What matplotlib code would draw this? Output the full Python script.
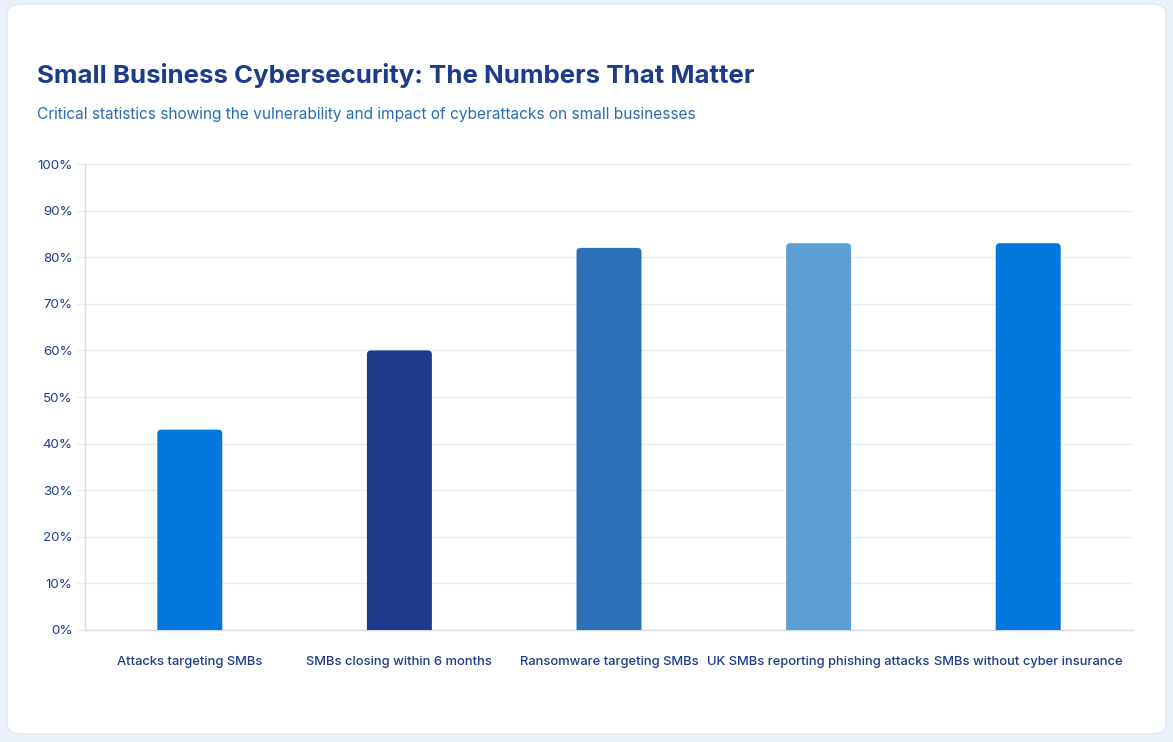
import matplotlib
matplotlib.use("Agg")
import matplotlib.pyplot as plt
from matplotlib.patches import FancyBboxPatch
from matplotlib.ticker import FuncFormatter, MultipleLocator

categories = ["Attacks targeting SMBs", "SMBs closing within 6 months",
              "Ransomware targeting SMBs", "UK SMBs reporting phishing attacks",
              "SMBs without cyber insurance"]
values = [43, 60, 82, 83, 83]
colors = ["#0277dd", "#1e3a8a", "#2c70b8", "#5c9fd4", "#0277dd"]

title = "Small Business Cybersecurity: The Numbers That Matter"
subtitle = "Critical statistics showing the vulnerability and impact of cyberattacks on small businesses"

plt.rcParams['font.family'] = ['Inter', 'DejaVu Sans']

W, H = 1173, 742
fig = plt.figure(figsize=(W / 100, H / 100), dpi=100)
fig.patch.set_facecolor("#eaf1fa")

card = FancyBboxPatch((7 / W, 8 / H), 1159 / W, 730 / H,
                      boxstyle="round,pad=0,rounding_size=0.013",
                      transform=fig.transFigure, facecolor="white",
                      edgecolor="#dde7f3", linewidth=1, zorder=-10)
fig.patches.append(card)

fig.text(37 / W, 1 - 75 / H, title, fontsize=18.6, fontweight="bold",
         color="#1e3a8a", va="center", ha="left")
fig.text(37 / W, 1 - 115 / H, subtitle, fontsize=11.1, color="#2b6cb0",
         va="center", ha="left")

ax = fig.add_axes([85 / W, 1 - 630 / H, (1133 - 85) / W, (630 - 164) / H])
ax.set_zorder(5)
ax.set_facecolor("none")

x = list(range(len(categories)))
bars = ax.bar(x, values, width=0.31, color=colors, zorder=3)
ax.set_xlim(-0.5, len(categories) - 0.5)
ax.set_ylim(0, 100)

# rounded tops
fig.canvas.draw()
bbox = ax.get_window_extent()
px_per_x = bbox.width / (ax.get_xlim()[1] - ax.get_xlim()[0])
px_per_y = bbox.height / (ax.get_ylim()[1] - ax.get_ylim()[0])
r = 0.02
for b in bars:
    b.set_visible(False)
    bx, bw, bh = b.get_x(), b.get_width(), b.get_height()
    p = FancyBboxPatch((bx, -5), bw, bh + 5,
                       boxstyle=f"round,pad=0,rounding_size={r}",
                       mutation_aspect=px_per_x / px_per_y,
                       facecolor=b.get_facecolor(), edgecolor="none",
                       zorder=3, clip_on=True)
    ax.add_patch(p)

ax.yaxis.set_major_locator(MultipleLocator(10))
ax.yaxis.set_major_formatter(FuncFormatter(lambda v, p: f"{int(v)}%"))
ax.grid(axis="y", color="#e8eef6", linewidth=1, zorder=0)
ax.set_axisbelow(True)
for s in ["top", "right"]:
    ax.spines[s].set_visible(False)
for s in ["left", "bottom"]:
    ax.spines[s].set_color("#d3dbe8")
    ax.spines[s].set_linewidth(1)

ax.tick_params(axis="y", length=6, color="#e3e9f2", labelsize=9.6,
               labelcolor="#1e3a8a", pad=3)
ax.tick_params(axis="x", length=0, labelsize=9.3, labelcolor="#1e3a8a", pad=19)
ax.set_xticks(x)
ax.set_xticklabels(categories, fontweight="medium")

fig.savefig("out.png", dpi=100, facecolor=fig.get_facecolor())
